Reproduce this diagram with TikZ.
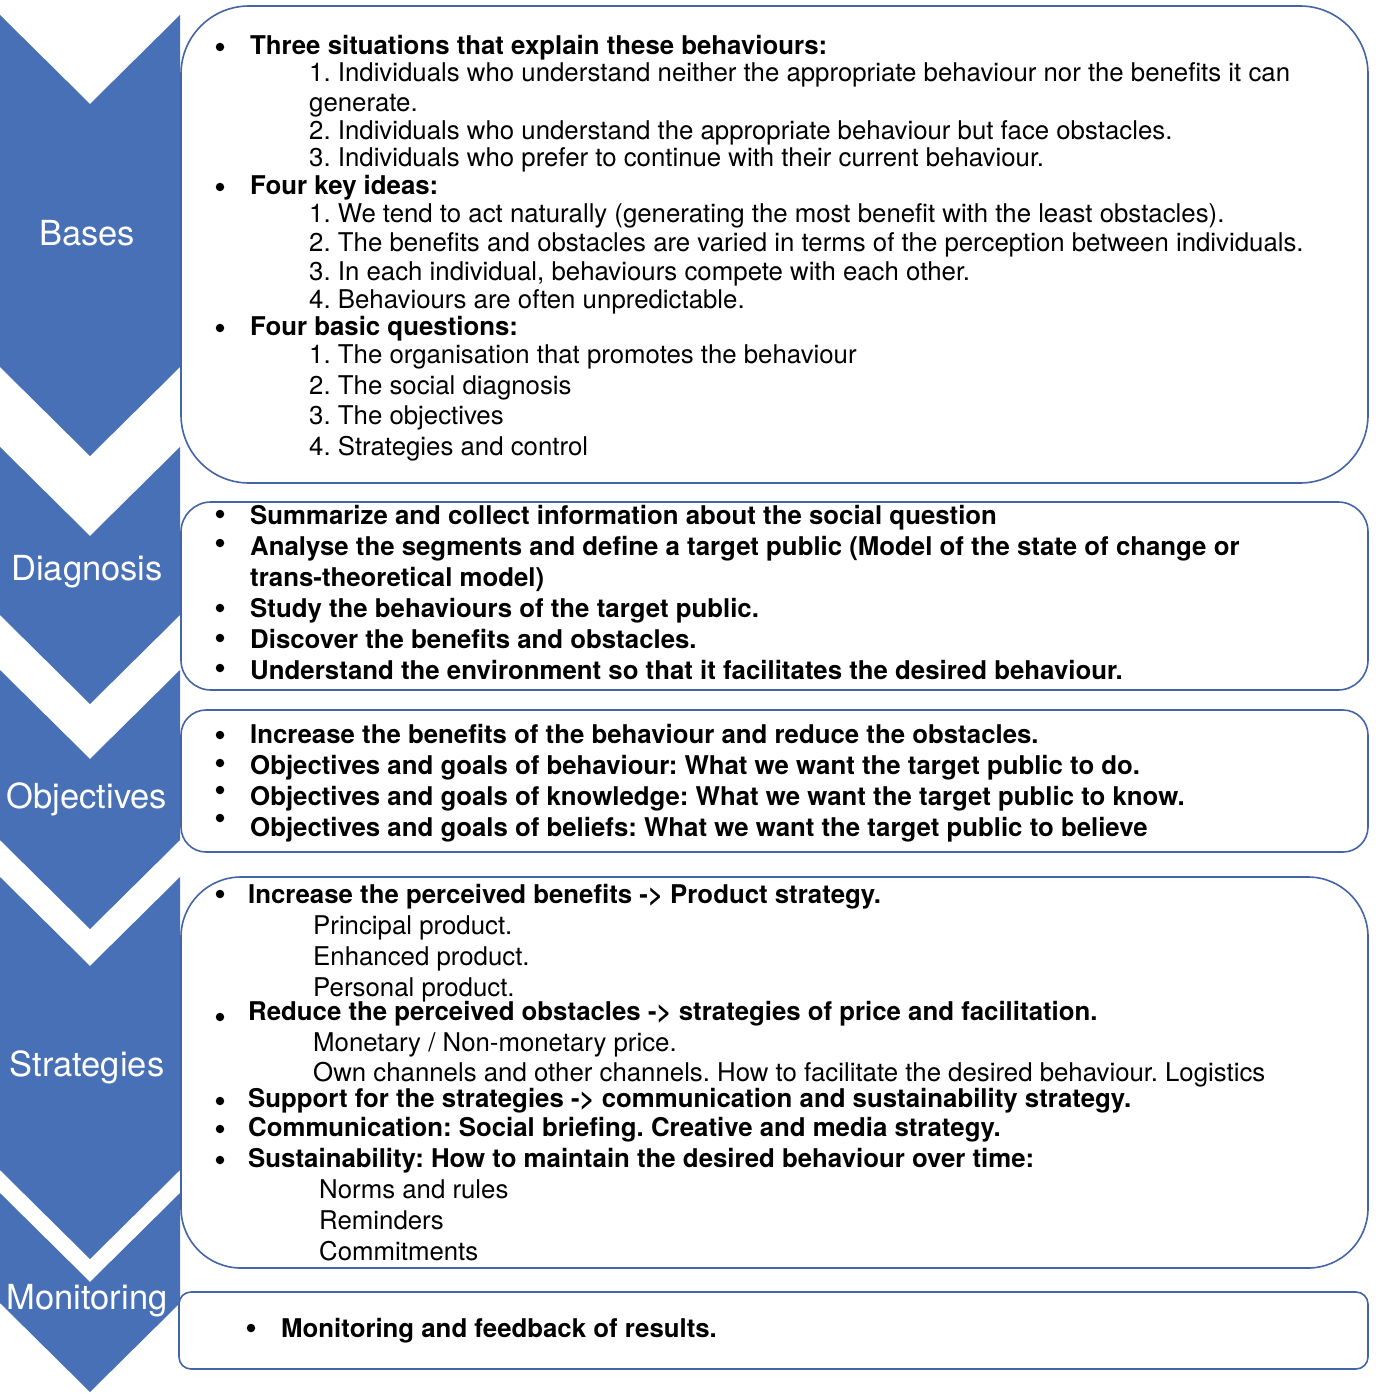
\documentclass[tikz,border=0pt]{standalone}
\usepackage{fontspec}
\setmainfont{TeX Gyre Heros}
\usetikzlibrary{positioning}
\definecolor{chevblue}{RGB}{72,112,182}
\definecolor{boxline}{RGB}{68,100,168}
\frenchspacing

\begin{document}
\begin{tikzpicture}[x=1pt,y=-1pt,
    chev/.style={fill=chevblue},
    panel/.style={draw=boxline,line width=1.6pt,fill=white},
    steplabel/.style={text=white,inner sep=0pt,font=\fontsize{34.5}{38}\selectfont},
    head/.style={anchor=mid west,inner sep=0pt,font=\fontsize{25.8}{29}\selectfont\bfseries},
    item/.style={anchor=mid west,inner sep=0pt,font=\fontsize{25.8}{29}\selectfont},
    dot/.style={circle,fill=black,inner sep=0pt,minimum size=8.5pt}]
    \useasboundingbox (0,0) rectangle (1375,1396);

    % chevrons on the left
    \fill[chev] (0,15) -- (90,104) -- (180,15) -- (180,367) -- (90,456) -- (0,367) -- cycle;
    \fill[chev] (0,447) -- (90,536) -- (180,447) -- (180,615) -- (90,704) -- (0,615) -- cycle;
    \fill[chev] (0,670) -- (90,759) -- (180,670) -- (180,840) -- (90,929) -- (0,840) -- cycle;
    \fill[chev] (0,877) -- (90,966) -- (180,877) -- (180,1170) -- (90,1259) -- (0,1170) -- cycle;
    \fill[chev] (0,1193) -- (90,1282) -- (180,1193) -- (180,1303) -- (90,1392) -- (0,1303) -- cycle;

    \node[steplabel] (bases) at (87,233) {Bases};
    \node[steplabel] (diagnosis) at (87,572) {Diagnosis};
    \node[steplabel] (objectives) at (87,799) {Objectives};
    \node[steplabel] (strategies) at (87,1067) {Strategies};
    \node[steplabel] (monitoring) at (87,1301) {Monitoring};

    % panels
    \draw[panel, rounded corners=68pt] (181,6) rectangle (1368,483);
    \draw[panel, rounded corners=30pt] (181,502) rectangle (1368,690);
    \draw[panel, rounded corners=25pt] (181,710) rectangle (1368,852);
    \draw[panel, rounded corners=60pt] (181,877) rectangle (1368,1268);
    \draw[panel, rounded corners=12pt] (179,1292) rectangle (1368,1369);

    % Bases
    \node[dot] (basdot1) at (220,47) {};
    \node[head] (bas1) at (250,52) {Three situations that explain these behaviours:};
    \node[item] (bas11) at (309,79) {1. Individuals who understand neither the appropriate behaviour nor the benefits it can};
    \node[item] (bas11b) at (309,109) {generate.};
    \node[item] (bas12) at (309,137) {2. Individuals who understand the appropriate behaviour but face obstacles.};
    \node[item] (bas13) at (309,164) {3. Individuals who prefer to continue with their current behaviour.};
    \node[dot] (basdot2) at (220,187) {};
    \node[head] (bas2) at (250,192) {Four key ideas:};
    \node[item] (bas21) at (309,220) {1. We tend to act naturally (generating the most benefit with the least obstacles).};
    \node[item] (bas22) at (309,249) {2. The benefits and obstacles are varied in terms of the perception between individuals.};
    \node[item] (bas23) at (309,278) {3. In each individual, behaviours compete with each other.};
    \node[item] (bas24) at (309,306) {4. Behaviours are often unpredictable.};
    \node[dot] (basdot3) at (220,328) {};
    \node[head] (bas3) at (250,333) {Four basic questions:};
    \node[item] (bas31) at (309,361) {1. The organisation that promotes the behaviour};
    \node[item] (bas32) at (309,392) {2. The social diagnosis};
    \node[item] (bas33) at (309,422) {3. The objectives};
    \node[item] (bas34) at (309,453) {4. Strategies and control};

    % Diagnosis
    \node[dot] (diadot1) at (220,514) {};
    \node[head] (dia1) at (250,522) {Summarize and collect information about the social question};
    \node[dot] (diadot2) at (220,543) {};
    \node[head] (dia2) at (250,553) {Analyse the segments and define a target public (Model of the state of change or};
    \node[head] (dia2b) at (250,584) {trans-theoretical model)};
    \node[dot] (diadot3) at (220,608) {};
    \node[head] (dia3) at (250,615) {Study the behaviours of the target public.};
    \node[dot] (diadot4) at (220,638) {};
    \node[head] (dia4) at (250,646) {Discover the benefits and obstacles.};
    \node[dot] (diadot5) at (220,668) {};
    \node[head] (dia5) at (250,677) {Understand the environment so that it facilitates the desired behaviour.};

    % Objectives
    \node[dot] (objdot1) at (220,735) {};
    \node[head] (obj1) at (250,741) {Increase the benefits of the behaviour and reduce the obstacles.};
    \node[dot] (objdot2) at (220,763) {};
    \node[head] (obj2) at (250,772) {Objectives and goals of behaviour: What we want the target public to do.};
    \node[dot] (objdot3) at (220,790) {};
    \node[head] (obj3) at (250,803) {Objectives and goals of knowledge: What we want the target public to know.};
    \node[dot] (objdot4) at (220,818) {};
    \node[head] (obj4) at (250,834) {Objectives and goals of beliefs: What we want the target public to believe};

    % Strategies
    \node[dot] (strdot1) at (220,894) {};
    \node[head] (str1) at (248,901) {Increase the perceived benefits -> Product strategy.};
    \node[item] (str11) at (313,932) {Principal product.};
    \node[item] (str12) at (313,963) {Enhanced product.};
    \node[item] (str13) at (313,994) {Personal product.};
    \node[dot] (strdot2) at (220,1017) {};
    \node[head] (str2) at (248,1018) {Reduce the perceived obstacles -> strategies of price and facilitation.};
    \node[item] (str21) at (313,1049) {Monetary / Non-monetary price.};
    \node[item] (str22) at (313,1079) {Own channels and other channels. How to facilitate the desired behaviour. Logistics};
    \node[dot] (strdot3) at (220,1101) {};
    \node[head] (str3) at (248,1105) {Support for the strategies -> communication and sustainability strategy.};
    \node[dot] (strdot4) at (220,1129) {};
    \node[head] (str4) at (248,1134) {Communication: Social briefing. Creative and media strategy.};
    \node[dot] (strdot5) at (220,1160) {};
    \node[head] (str5) at (248,1165) {Sustainability: How to maintain the desired behaviour over time:};
    \node[item] (str51) at (319,1196) {Norms and rules};
    \node[item] (str52) at (319,1227) {Reminders};
    \node[item] (str53) at (319,1258) {Commitments};

    % Monitoring
    \node[dot] (mondot1) at (251,1328) {};
    \node[head] (mon1) at (281,1335) {Monitoring and feedback of results.};
\end{tikzpicture}
\end{document}
